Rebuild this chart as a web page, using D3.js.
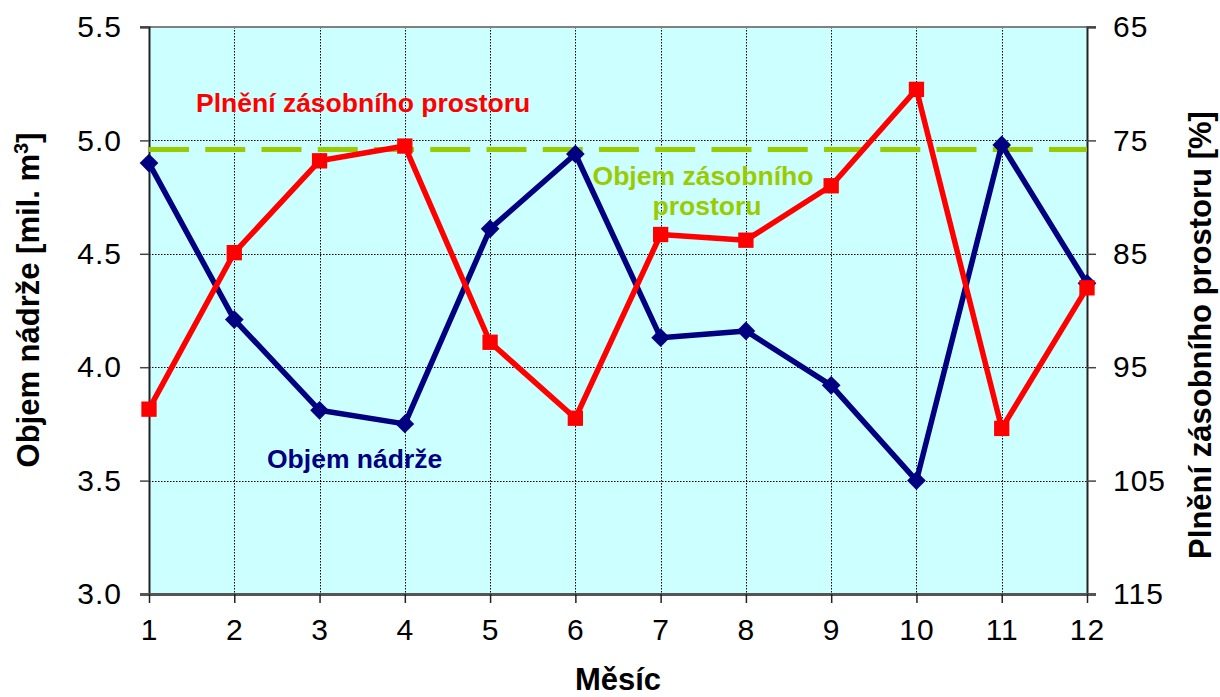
<!DOCTYPE html>
<html>
<head>
<meta charset="utf-8">
<script src="https://cdn.jsdelivr.net/npm/d3@7/dist/d3.min.js"></script>
<style>
  html, body { margin: 0; padding: 0; background: #ffffff; }
  svg { display: block; font-family: "Liberation Sans", Arial, Helvetica, sans-serif; }
</style>
</head>
<body>
<svg id="chart" width="1220" height="697"></svg>
<script>
// Months on the x axis
const months = [1, 2, 3, 4, 5, 6, 7, 8, 9, 10, 11, 12];
// Reservoir volume [mil. m3] – left axis
const reservoirVolume = [4.90, 4.21, 3.81, 3.75, 4.61, 4.94, 4.13, 4.16, 3.92, 3.50, 4.98, 4.37];
// Storage space filling [%] – right axis (reversed)
const storageFilling = [98.7, 84.9, 76.8, 75.5, 92.8, 99.5, 83.3, 83.8, 79.0, 70.5, 100.4, 88.0];
// Storage space volume [mil. m3] – constant reference level
const storageVolume = 4.96;

// Tick labels
const leftTicks = [3.0, 3.5, 4.0, 4.5, 5.0, 5.5];
const rightTicks = [65, 75, 85, 95, 105, 115];

const svg = d3.select("#chart");
const plot = { left: 149, right: 1087, top: 27, bottom: 594 };

const x = d3.scaleLinear().domain([1, 12]).range([plot.left, plot.right]);
const yL = d3.scaleLinear().domain([3.0, 5.5]).range([plot.bottom, plot.top]);
const yR = d3.scaleLinear().domain([65, 115]).range([plot.top, plot.bottom]);

// Plot background
svg.append("rect")
  .attr("x", plot.left).attr("y", plot.top)
  .attr("width", plot.right - plot.left).attr("height", plot.bottom - plot.top)
  .attr("fill", "#ccffff");

// Dotted gridlines
const grid = svg.append("g").attr("stroke", "#000").attr("stroke-width", 1)
  .attr("stroke-dasharray", "1.5,1.5").attr("fill", "none");
grid.selectAll("line.v").data(months.slice(1, -1)).join("line")
  .attr("x1", d => Math.round(x(d)) + 0.5).attr("x2", d => Math.round(x(d)) + 0.5)
  .attr("y1", plot.top).attr("y2", plot.bottom);
grid.selectAll("line.h").data(leftTicks.slice(1, -1)).join("line")
  .attr("x1", plot.left).attr("x2", plot.right)
  .attr("y1", d => Math.round(yL(d)) + 0.5).attr("y2", d => Math.round(yL(d)) + 0.5);

// Top border of plot area
svg.append("line")
  .attr("x1", plot.left - 9).attr("x2", plot.right + 9)
  .attr("y1", plot.top).attr("y2", plot.top)
  .attr("stroke", "#808080").attr("stroke-width", 2);

// Axes
const tickFont = g => g.selectAll("text")
  .attr("font-size", 30).attr("fill", "#000").attr("letter-spacing", "1px");

const axL = svg.append("g").attr("transform", `translate(${plot.left},0)`)
  .call(d3.axisLeft(yL).tickValues(leftTicks).tickFormat(d3.format(".1f")).tickSize(9).tickPadding(18));
axL.select(".domain").attr("stroke", "#222").attr("stroke-width", 2);
axL.selectAll(".tick line").attr("stroke", "#444").attr("stroke-width", 1.5);
axL.call(tickFont);

const axR = svg.append("g").attr("transform", `translate(${plot.right},0)`)
  .call(d3.axisRight(yR).tickValues(rightTicks).tickSize(9).tickPadding(17));
axR.select(".domain").attr("stroke", "#222").attr("stroke-width", 2);
axR.selectAll(".tick line").attr("stroke", "#444").attr("stroke-width", 1.5);
axR.call(tickFont);

const axB = svg.append("g").attr("transform", `translate(0,${plot.bottom})`)
  .call(d3.axisBottom(x).tickValues(months).tickFormat(d3.format("d")).tickSize(9).tickPadding(16));
axB.select(".domain").attr("stroke", "#555").attr("stroke-width", 3)
  .attr("d", `M${plot.left - 9},0.5H${plot.right + 9}`);
axB.selectAll(".tick line").attr("stroke", "#222").attr("stroke-width", 1.5);
axB.call(tickFont);
axB.selectAll("text").attr("dy", "0.71em");

// Storage space volume – dashed reference level
svg.append("line")
  .attr("x1", x(months[0])).attr("x2", x(months[months.length - 1]))
  .attr("y1", yL(storageVolume)).attr("y2", yL(storageVolume))
  .attr("stroke", "#99cc00").attr("stroke-width", 5)
  .attr("stroke-dasharray", "40,16.25");

// Reservoir volume series (navy, diamonds)
const blueLine = d3.line().x((d, i) => x(months[i])).y(d => yL(d));
svg.append("path").datum(reservoirVolume)
  .attr("d", blueLine).attr("fill", "none")
  .attr("stroke", "#000080").attr("stroke-width", 5.5).attr("stroke-linejoin", "round");
svg.append("g").selectAll("path").data(reservoirVolume).join("path")
  .attr("d", d3.symbol().type(d3.symbolSquare).size(175))
  .attr("transform", (d, i) => `translate(${x(months[i])},${yL(d)}) rotate(45)`)
  .attr("fill", "#000080");

// Storage filling series (red, squares)
const redLine = d3.line().x((d, i) => x(months[i])).y(d => yR(d));
svg.append("path").datum(storageFilling)
  .attr("d", redLine).attr("fill", "none")
  .attr("stroke", "#ff0000").attr("stroke-width", 5.5).attr("stroke-linejoin", "round");
svg.append("g").selectAll("path").data(storageFilling).join("path")
  .attr("d", d3.symbol().type(d3.symbolSquare).size(235))
  .attr("transform", (d, i) => `translate(${x(months[i])},${yR(d)})`)
  .attr("fill", "#ff0000");

// Series labels
svg.append("text").attr("x", 196).attr("y", 112)
  .attr("font-size", 26.5).attr("font-weight", "bold").attr("fill", "#ff0000")
  .text("Plnění zásobního prostoru");

const g2 = svg.append("text").attr("font-size", 26.5).attr("font-weight", "bold")
  .attr("fill", "#99cc00").attr("text-anchor", "middle");
g2.append("tspan").attr("x", 703).attr("y", 185).text("Objem zásobního");
g2.append("tspan").attr("x", 707).attr("y", 215).text("prostoru");

svg.append("text").attr("x", 267).attr("y", 468)
  .attr("font-size", 26.5).attr("font-weight", "bold").attr("fill", "#000080")
  .text("Objem nádrže");

// Axis titles
svg.append("text").attr("x", (plot.left + plot.right) / 2).attr("y", 690)
  .attr("text-anchor", "middle").attr("font-size", 31).attr("font-weight", "bold")
  .text("Měsíc");

const lt = svg.append("text")
  .attr("transform", "translate(39,300) rotate(-90)")
  .attr("text-anchor", "middle").attr("font-size", 31).attr("font-weight", "bold");
lt.append("tspan").text("Objem nádrže [mil. m");
lt.append("tspan").attr("font-size", 20).attr("dy", -11).text("3");
lt.append("tspan").attr("dy", 11).text("]");

svg.append("text")
  .attr("transform", "translate(1211,335) rotate(-90)")
  .attr("text-anchor", "middle").attr("font-size", 31).attr("font-weight", "bold")
  .text("Plnění zásobního prostoru [%]");
</script>
</body>
</html>
